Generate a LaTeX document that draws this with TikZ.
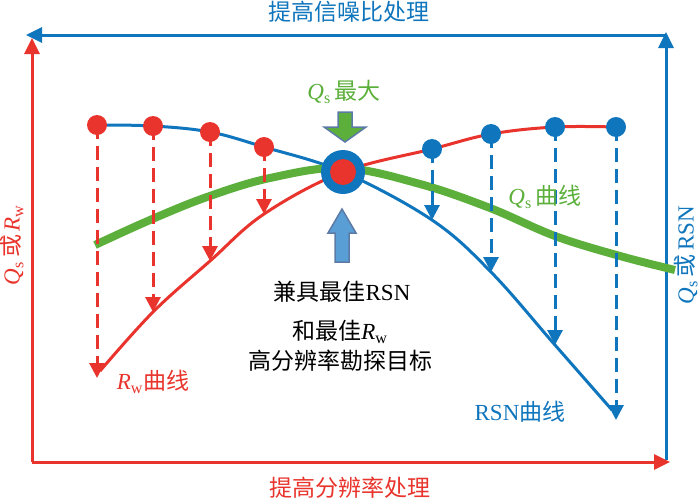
\documentclass[tikz,border=0pt]{standalone}
\usepackage{fontspec}
\setmainfont{Liberation Serif}
\newfontfamily\cjk{Noto Sans CJK SC}
\usepackage{tikz}
\usetikzlibrary{positioning, arrows.meta}
\definecolor{curvered}{HTML}{E8342C}
\definecolor{curveblue}{HTML}{0F75BC}
\definecolor{curvegreen}{HTML}{5BAF3A}
\definecolor{arrowedge}{HTML}{5B7BA6}
\definecolor{arrowblue}{HTML}{5A9ED6}
\tikzset{
  axisline/.style={line width=3pt, -{Triangle[length=16pt,width=15pt]}},
  dropline/.style={line width=3pt, dash pattern=on 14pt off 7pt,
    -{Triangle[length=15pt,width=15pt]}},
  dotmark/.style={circle, inner sep=0pt, minimum size=20pt},
  txt/.style={inner sep=1pt, font=\fontsize{23}{26}\selectfont},
}

\begin{document}
\begin{tikzpicture}[x=1pt, y=-1pt]
    \useasboundingbox (0,0) rectangle (700,501);

    \coordinate (origin) at (32,462);
    \coordinate (ytop) at (32,38);
    \coordinate (xend) at (670,462);
    \coordinate (rbottom) at (666,460);
    \coordinate (rtop) at (666,32);
    \coordinate (tright) at (666,35);
    \coordinate (tleft) at (26,35);
    \draw[axisline, curveblue] (rbottom) -- (rtop);
    \draw[axisline, curveblue] (tright) -- (tleft);
    \draw[axisline, curvered] (origin) -- (ytop);
    \draw[axisline, curvered] (origin) -- (xend);

    \coordinate (peakpt) at (343,172);
    \coordinate (l1) at (97,125);   \coordinate (lt1) at (97,378);
    \coordinate (l2) at (153,126);  \coordinate (lt2) at (153,312);
    \coordinate (l3) at (210,132);  \coordinate (lt3) at (210,261);
    \coordinate (l4) at (264,147);  \coordinate (lt4) at (264,214);
    \coordinate (r1) at (432,149);  \coordinate (rt1) at (432,220);
    \coordinate (r2) at (491,134);  \coordinate (rt2) at (491,272);
    \coordinate (r3) at (555,127);  \coordinate (rt3) at (555,345);
    \coordinate (r4) at (616,127);  \coordinate (rt4) at (616,420);

    \draw[curveblue, line width=3pt] plot[smooth, tension=0.6] coordinates
      {(l1) (l2) (l3) (l4) (peakpt) (rt1) (rt2) (rt3) (612,410)};
    \draw[curvered, line width=3pt] plot[smooth, tension=0.6] coordinates
      {(100,371) (lt2) (lt3) (lt4) (peakpt) (r1) (r2) (r3) (r4)};

    \draw[curvegreen, line width=8pt] plot[smooth, tension=0.6] coordinates
      {(95,245) (150,220) (207,197) (270,178) (343,168) (420,184)
       (490,208) (555,236) (620,256) (675,270)};

    \foreach \i in {1,...,4}{
      \draw[dropline, curvered] (l\i) -- (lt\i);
      \node[dotmark, fill=curvered] (ldot\i) at (l\i) {};
      \draw[dropline, curveblue] (r\i) -- (rt\i);
      \node[dotmark, fill=curveblue] (rdot\i) at (r\i) {};
    }

    \node[circle, fill=curveblue, minimum size=44pt, inner sep=0pt] (peak) at (peakpt) {};
    \node[circle, fill=curvered, minimum size=26pt, inner sep=0pt] (peakin) at (peakpt) {};

    \draw[arrowedge, fill=curvegreen, line width=1.5pt, line join=miter]
      (338,112) -- (352,112) -- (352,127) -- (366,127) -- (345,142)
      -- (324,127) -- (338,127) -- cycle;
    \draw[arrowedge, fill=arrowblue, line width=1.5pt, line join=miter]
      (342,209) -- (356,233) -- (349,233) -- (349,262) -- (335,262)
      -- (335,233) -- (328,233) -- cycle;

    \node[txt, text=curvegreen] (qmax) at (344,92) {{\itshape Q}\textsubscript{s}\,{\cjk 最大}};
    \node[txt] (goal1) at (342,292) {{\cjk 兼具最佳}RSN};
    \node[txt] (goal2) at (340,332) {{\cjk 和最佳}{\itshape R}\textsubscript{w}};
    \node[txt] (goal3) at (340,361) {\cjk 高分辨率勘探目标};

    \node[txt, text=curvered] (rwname) at (153,382) {{\itshape R}\textsubscript{w}{\cjk 曲线}};
    \node[txt, text=curveblue] (rsnname) at (520,412) {RSN{\cjk 曲线}};
    \node[txt, text=curvegreen] (qsname) at (545,197) {{\itshape Q}\textsubscript{s}\,{\cjk 曲线}};

    \node[txt, text=curveblue] (toptitle) at (349,12) {\cjk 提高信噪比处理};
    \node[txt, text=curvered] (bottitle) at (350,488) {\cjk 提高分辨率处理};
    \node[txt, text=curvered, rotate=90] (leftname) at (12,245)
      {{\itshape Q}\textsubscript{s}\,{\cjk 或}\,{\itshape R}\textsubscript{w}};
    \node[txt, text=curveblue, rotate=90] (rightname) at (686,255)
      {{\itshape Q}\textsubscript{s}\,{\cjk 或}\,RSN};
  \end{tikzpicture}
\end{document}
